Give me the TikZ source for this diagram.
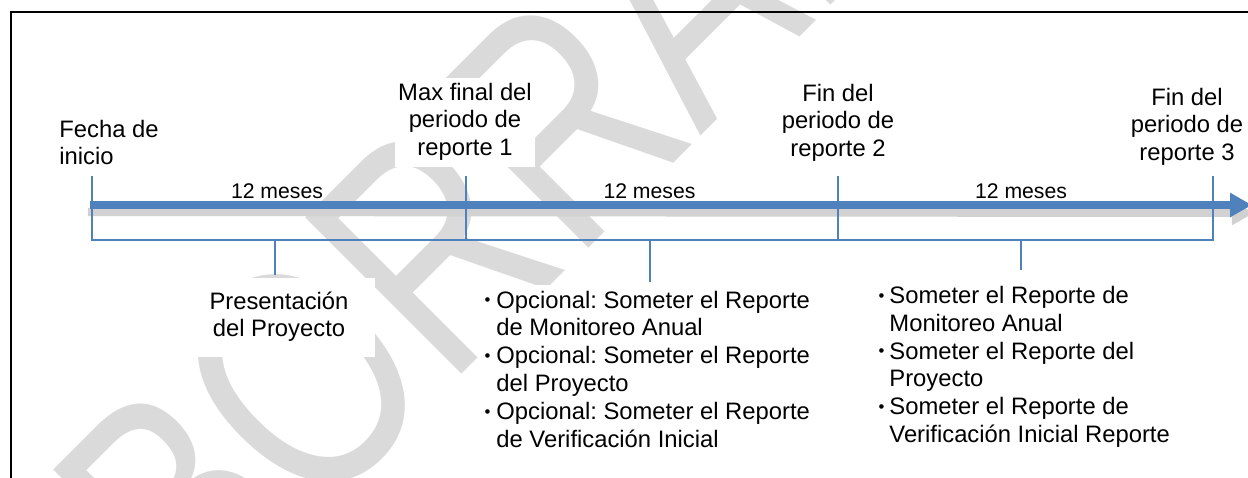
\documentclass[tikz,border=0pt]{standalone}
\usepackage{fontspec}
\setmainfont{Liberation Sans}
\usetikzlibrary{arrows.meta}
\definecolor{tlblue}{HTML}{4F81BD}
\definecolor{wmgray}{HTML}{DADADA}
\newcommand{\bulmark}{\raisebox{0.09em}{\scalebox{0.7}{•}}}
\frenchspacing
\begin{document}
\begin{tikzpicture}[x=0.5pt,y=-0.5pt,
  lbl/.style={font=\fontsize{11.9}{13.9}\selectfont, fill=white, inner sep=1.5pt, anchor=base},
  lst/.style={font=\fontsize{11.9}{13.9}\selectfont, fill=white, inner sep=2pt, anchor=base west},
  dur/.style={font=\fontsize{10.6}{12}\selectfont, inner sep=0pt, anchor=base},
  thin/.style={draw=tlblue, line width=0.75pt},
  frame/.style={draw=black, line width=1pt},
  mainarrow/.style={draw=tlblue, line width=4pt, -{Triangle[length=11pt,width=11.5pt]}},
  shadowarrow/.style={draw=black!18, line width=4pt, -{Triangle[length=11pt,width=11.5pt]}}]
\useasboundingbox (0,0) rectangle (1248,477);
\clip (0,0) rectangle (1248,477);

% watermark
\node[rotate=45, text=wmgray, font=\fontsize{123.5}{123.5}\selectfont, inner sep=0pt] (wm) at (622,58) {\scalebox{1}[1.3]{BORRADOR}};

% frame
\draw[frame] (11,490) -- (11,12) -- (1260,12);

% top labels
\node[lbl, anchor=base west] (fecha) at (56,137) {\begin{tabular}[t]{@{}l@{}}Fecha de\\inicio\end{tabular}};
\node[lbl] (max1) at (465,100) {\begin{tabular}[t]{@{}c@{}}Max final del\\periodo de\\reporte 1\end{tabular}};
\node[lbl] (fin2) at (838,101) {\begin{tabular}[t]{@{}c@{}}Fin del\\periodo de\\reporte 2\end{tabular}};
\node[lbl] (fin3) at (1187,105) {\begin{tabular}[t]{@{}c@{}}Fin del\\periodo de\\reporte 3\end{tabular}};

% coordinates
\coordinate (t0a) at (92,176);  \coordinate (t0b) at (92,240);
\coordinate (t1a) at (466,176); \coordinate (t1b) at (466,240);
\coordinate (t2a) at (838,176); \coordinate (t2b) at (838,240);
\coordinate (t3a) at (1213,176);\coordinate (t3b) at (1213,240);
\coordinate (m1a) at (275,240); \coordinate (m1b) at (275,275);
\coordinate (m2a) at (650,240); \coordinate (m2b) at (650,282);
\coordinate (m3a) at (1021,240);\coordinate (m3b) at (1021,270);
\coordinate (as) at (90,205);   \coordinate (ae) at (1252,205);
\coordinate (ss) at (88,212);   \coordinate (se) at (1254,213);

% arrow with shadow
\draw[shadowarrow] (ss) -- (se);
\draw[mainarrow] (as) -- (ae);

% ticks and brackets
\draw[thin] (t0a) -- (t0b) -- (t1b) -- (t1a);
\draw[thin] (t1b) -- (t2b) -- (t2a);
\draw[thin] (t2b) -- (t3b) -- (t3a);
\draw[thin] (m1a) -- (m1b);
\draw[thin] (m2a) -- (m2b);
\draw[thin] (m3a) -- (m3b);

% durations
\node[dur] (d1) at (277,198) {12 meses};
\node[dur] (d2) at (649.5,198) {12 meses};
\node[dur] (d3) at (1021,198) {12 meses};

% bottom texts
\node[lbl, inner xsep=13.5pt, inner ysep=6pt] (pres) at (279,309) {\begin{tabular}[t]{@{}c@{}}Presentación\\del Proyecto\end{tabular}};
\node[lst] (opc) at (480.1,308) {\begin{tabular}[t]{@{}c@{\hspace{3.05pt}}l@{}}
\bulmark & Opcional: Someter el Reporte\\
 & de Monitoreo Anual\\
\bulmark & Opcional: Someter el Reporte\\
 & del Proyecto\\
\bulmark & Opcional: Someter el Reporte\\
 & de Verificación Inicial
\end{tabular}};
\node[lst] (som) at (874.1,303.5) {\begin{tabular}[t]{@{}c@{\hspace{2.55pt}}l@{}}
\bulmark & Someter el Reporte de\\
 & Monitoreo Anual\\
\bulmark & Someter el Reporte del\\
 & Proyecto\\
\bulmark & Someter el Reporte de\\
 & Verificación Inicial Reporte
\end{tabular}};
\end{tikzpicture}
\end{document}
